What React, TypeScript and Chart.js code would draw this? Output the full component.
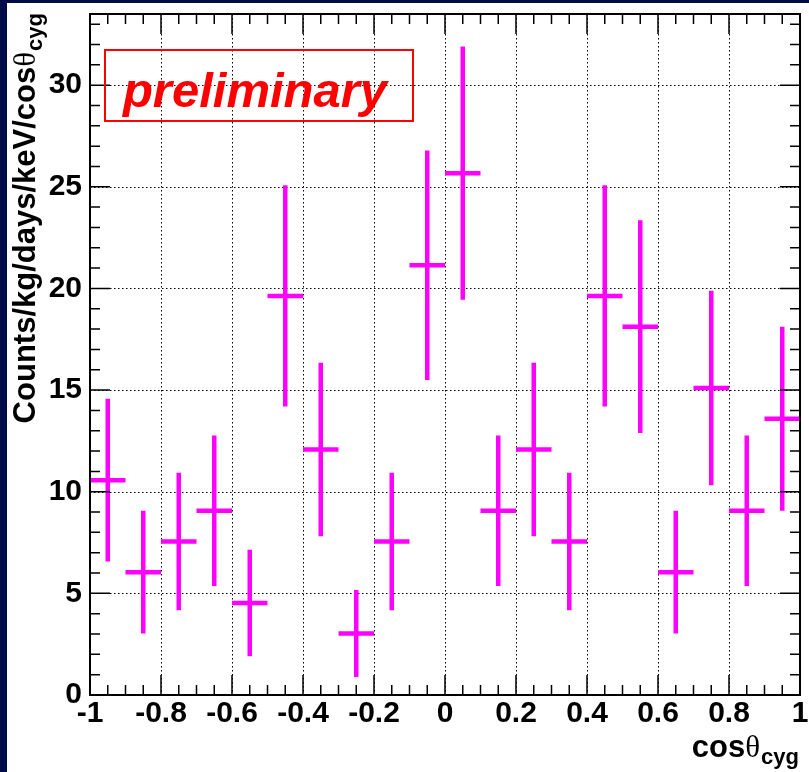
import React, { useEffect, useRef } from "react";
import { Chart, registerables } from "chart.js";

Chart.register(...registerables);

// ---- data ----
const BIN_CENTERS = [-0.95, -0.85, -0.75, -0.65, -0.55, -0.45, -0.35, -0.25, -0.15, -0.05, 0.05, 0.15, 0.25, 0.35, 0.45, 0.55, 0.65, 0.75, 0.85, 0.95];
const VALUES = [10.57, 6.04, 7.55, 9.06, 4.53, 19.63, 12.08, 3.02, 7.55, 21.14, 25.67, 9.06, 12.08, 7.55, 19.63, 18.12, 6.04, 15.1, 9.06, 13.59];
const ERRORS = [4.0, 3.02, 3.38, 3.7, 2.62, 5.44, 4.27, 2.14, 3.38, 5.65, 6.23, 3.7, 4.27, 3.38, 5.44, 5.23, 3.02, 4.78, 3.7, 4.53];
const BIN_HALF_WIDTH = 0.05;

const X_MIN = -1;
const X_MAX = 1;
const Y_MIN = 0;
const Y_MAX = 33.5;
const X_TICKS = [-1, -0.8, -0.6, -0.4, -0.2, 0, 0.2, 0.4, 0.6, 0.8, 1];
const X_TICK_LABELS = ["-1", "-0.8", "-0.6", "-0.4", "-0.2", "0", "0.2", "0.4", "0.6", "0.8", "1"];
const Y_TICKS = [0, 5, 10, 15, 20, 25, 30];
const Y_TICK_LABELS = ["0", "5", "10", "15", "20", "25", "30"];
const X_MINOR_STEP = 0.05;
const Y_MINOR_STEP = 1;

const Y_TITLE_MAIN = "Counts/kg/days/keV/cos";
const X_TITLE_MAIN = "cos";
const THETA = "θ";
const TITLE_SUB = "cyg";
const STAMP = "preliminary";

// ---- styles ----
const NAVY = "#000b48";
const MAGENTA = "#ff00ff";
const SANS = "'Liberation Sans', Arial, Helvetica, sans-serif";
const SERIF = "'Liberation Serif', 'DejaVu Serif', serif";

const rootPlugin = {
  id: "rootStyle",
  beforeDraw(chart: any) {
    const { ctx, width, height } = chart;
    ctx.save();
    ctx.fillStyle = NAVY;
    ctx.fillRect(0, 0, width, height);
    ctx.fillStyle = "#ffffff";
    ctx.fillRect(7, 3, width - 7, height - 3);
    ctx.restore();
  },
  beforeDatasetsDraw(chart: any) {
    const { ctx, chartArea: a, scales } = chart;
    const x = scales.x;
    const y = scales.y;
    ctx.save();
    ctx.strokeStyle = "#000";
    ctx.lineWidth = 1;
    ctx.setLineDash([1.5, 2.5]);
    for (const v of X_TICKS) {
      if (v <= X_MIN || v >= X_MAX) continue;
      const px = Math.round(x.getPixelForValue(v)) + 0.5;
      ctx.beginPath();
      ctx.moveTo(px, a.top);
      ctx.lineTo(px, a.bottom);
      ctx.stroke();
    }
    for (const v of Y_TICKS) {
      if (v <= Y_MIN || v >= Y_MAX) continue;
      const py = Math.round(y.getPixelForValue(v)) + 0.5;
      ctx.beginPath();
      ctx.moveTo(a.left, py);
      ctx.lineTo(a.right, py);
      ctx.stroke();
    }
    ctx.restore();
  },
  afterDatasetsDraw(chart: any) {
    const { ctx, chartArea: a, scales } = chart;
    const x = scales.x;
    const y = scales.y;
    ctx.save();
    ctx.strokeStyle = "#000";
    ctx.setLineDash([]);
    ctx.lineWidth = 1.5;
    const nx = Math.round((X_MAX - X_MIN) / X_MINOR_STEP);
    for (let k = 0; k <= nx; k++) {
      const v = X_MIN + k * X_MINOR_STEP;
      const major = k % 4 === 0;
      const len = major ? 20 : 10;
      const px = x.getPixelForValue(v);
      ctx.beginPath();
      ctx.moveTo(px, a.bottom);
      ctx.lineTo(px, a.bottom - len);
      ctx.moveTo(px, a.top);
      ctx.lineTo(px, a.top + len);
      ctx.stroke();
    }
    const ny = Math.floor((Y_MAX - Y_MIN) / Y_MINOR_STEP);
    for (let k = 0; k <= ny; k++) {
      const v = Y_MIN + k * Y_MINOR_STEP;
      const major = k % 5 === 0;
      const len = major ? 20 : 10;
      const py = y.getPixelForValue(v);
      ctx.beginPath();
      ctx.moveTo(a.left, py);
      ctx.lineTo(a.left + len, py);
      ctx.moveTo(a.right, py);
      ctx.lineTo(a.right - len, py);
      ctx.stroke();
    }
    ctx.lineWidth = 2;
    ctx.strokeRect(a.left, a.top, a.right - a.left, a.bottom - a.top);
    ctx.restore();
  },
  afterDraw(chart: any) {
    const { ctx } = chart;
    ctx.save();
    ctx.fillStyle = "#000";
    ctx.textBaseline = "alphabetic";
    ctx.textAlign = "left";
    const mainFont = `bold 31px ${SANS}`;
    const thetaFont = `31px ${SERIF}`;
    const subFont = `bold 22px ${SANS}`;

    // Y title (rotated)
    ctx.font = mainFont;
    const w1 = ctx.measureText(Y_TITLE_MAIN).width;
    ctx.font = thetaFont;
    const w2 = ctx.measureText(THETA).width;
    ctx.font = subFont;
    const w3 = ctx.measureText(TITLE_SUB).width;
    const total = w1 + w2 + w3 + 1;
    ctx.save();
    ctx.translate(35, 13 + total);
    ctx.rotate(-Math.PI / 2);
    ctx.font = mainFont;
    ctx.fillText(Y_TITLE_MAIN, 0, 0);
    ctx.font = thetaFont;
    ctx.fillText(THETA, w1, 0);
    ctx.font = subFont;
    ctx.fillText(TITLE_SUB, w1 + w2 + 1, 7);
    ctx.restore();

    // X title
    ctx.font = mainFont;
    const xw1 = ctx.measureText(X_TITLE_MAIN).width;
    const xStart = 799 - (xw1 + w2 + w3 + 1);
    ctx.fillText(X_TITLE_MAIN, xStart, 757);
    ctx.font = thetaFont;
    ctx.fillText(THETA, xStart + xw1, 757);
    ctx.font = subFont;
    ctx.fillText(TITLE_SUB, xStart + xw1 + w2 + 1, 764);

    // preliminary stamp
    ctx.strokeStyle = "#ff0000";
    ctx.lineWidth = 2;
    ctx.strokeRect(105, 50, 308, 71);
    ctx.fillStyle = "#ff0000";
    ctx.font = `italic bold 49px ${SANS}`;
    ctx.textAlign = "center";
    ctx.fillText(STAMP, 255, 107);
    ctx.restore();
  },
};

function buildHorizontal() {
  const pts: any[] = [];
  BIN_CENTERS.forEach((c, i) => {
    pts.push({ x: c - BIN_HALF_WIDTH, y: VALUES[i] });
    pts.push({ x: c + BIN_HALF_WIDTH, y: VALUES[i] });
    pts.push({ x: c, y: null });
  });
  return pts;
}

function buildVertical() {
  const pts: any[] = [];
  BIN_CENTERS.forEach((c, i) => {
    pts.push({ x: c, y: VALUES[i] - ERRORS[i] });
    pts.push({ x: c, y: VALUES[i] + ERRORS[i] });
    pts.push({ x: c, y: null });
  });
  return pts;
}

function zeroPad(s: any) {
  s.paddingLeft = 0;
  s.paddingRight = 0;
  s.paddingTop = 0;
  s.paddingBottom = 0;
}

export default function App() {
  const ref = useRef<HTMLCanvasElement | null>(null);
  useEffect(() => {
    if (!ref.current) return;
    const tickFont = { family: SANS, weight: "bold" as const, size: 30 };
    const chart = new Chart(ref.current, {
      type: "line",
      data: {
        datasets: [
          {
            data: buildHorizontal(),
            borderColor: MAGENTA,
            borderWidth: 4.5,
            pointRadius: 0,
            spanGaps: false,
            borderCapStyle: "butt",
            tension: 0,
          },
          {
            data: buildVertical(),
            borderColor: MAGENTA,
            borderWidth: 4.5,
            pointRadius: 0,
            spanGaps: false,
            borderCapStyle: "butt",
            tension: 0,
          },
        ],
      },
      options: {
        animation: false,
        responsive: false,
        devicePixelRatio: 1,
        layout: { padding: { left: 0, right: 9, top: 14, bottom: 0 } },
        plugins: { legend: { display: false }, tooltip: { enabled: false } },
        scales: {
          x: {
            type: "linear",
            min: X_MIN,
            max: X_MAX,
            grid: { display: false, drawTicks: false },
            border: { display: false },
            afterBuildTicks: (s: any) => {
              s.ticks = X_TICKS.map((v) => ({ value: v }));
            },
            afterFit: (s: any) => {
              s.height = 77;
              zeroPad(s);
            },
            ticks: {
              autoSkip: false,
              maxRotation: 0,
              minRotation: 0,
              padding: 1,
              color: "#000",
              font: tickFont,
              callback: (_v: any, i: number) => X_TICK_LABELS[i],
            },
          },
          y: {
            type: "linear",
            min: Y_MIN,
            max: Y_MAX,
            grid: { display: false, drawTicks: false },
            border: { display: false },
            afterBuildTicks: (s: any) => {
              s.ticks = Y_TICKS.map((v) => ({ value: v }));
            },
            afterFit: (s: any) => {
              s.width = 90;
              zeroPad(s);
            },
            ticks: {
              autoSkip: false,
              padding: 8,
              color: "#000",
              font: tickFont,
              callback: (_v: any, i: number) => Y_TICK_LABELS[i],
            },
          },
        },
      },
      plugins: [rootPlugin],
    });
    return () => chart.destroy();
  }, []);
  return (
    <div style={{ position: "absolute", left: 0, top: 0, width: 809, height: 772 }}>
      <canvas ref={ref} width={809} height={772} style={{ display: "block" }} />
    </div>
  );
}
